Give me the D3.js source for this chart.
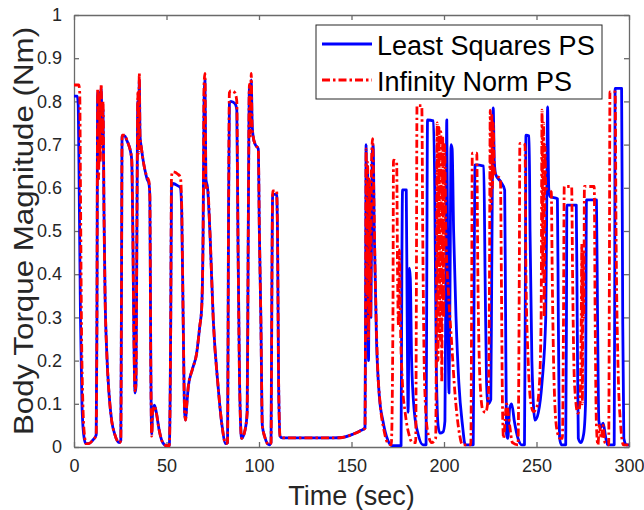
<!DOCTYPE html>
<html>
<head>
<meta charset="utf-8">
<script src="https://cdn.jsdelivr.net/npm/d3@7"></script>
<style>
  body { margin: 0; background: #fff; }
  text { font-family: "Liberation Sans", Arial, sans-serif; }
</style>
</head>
<body>
<svg id="chart" width="644" height="510"></svg>
<script>
// time ticks / torque ticks
var xTicks = [0, 50, 100, 150, 200, 250, 300];
var yTicks = [0, 0.1, 0.2, 0.3, 0.4, 0.5, 0.6, 0.7, 0.8, 0.9, 1];
var seriesNames = ['Least Squares PS', 'Infinity Norm PS'];

// [time (sec), torque (Nm)]
var leastSquares = [[0,0.812],[1.8,0.812],[2.3,0.79],[2.8,0.6],[3.5,0.3],[4.3,0.1],[5.2,0.03],[6.3,0.008],[8,0.008],[10,0.015],[12,0.028],[12.4,0.3],[12.8,0.82],[13.3,0.65],[13.7,0.82],[14.2,0.7],[14.7,0.83],[15.2,0.74],[15.7,0.78],[16.2,0.55],[16.8,0.35],[17.7,0.22],[19,0.12],[20.4,0.06],[22,0.03],[24.5,0.01],[25.3,0.015],[25.7,0.4],[26,0.72],[27.5,0.72],[28.5,0.71],[29.5,0.70],[30.5,0.685],[31.2,0.665],[31.8,0.5],[32.4,0.25],[33,0.125],[33.5,0.14],[34,0.5],[34.5,0.8],[34.9,0.7],[35.3,0.85],[35.7,0.72],[36.5,0.69],[37.5,0.66],[38.4,0.64],[39.5,0.62],[40.5,0.61],[41,0.58],[41.5,0.2],[42,0.03],[42.5,0.08],[43.5,0.097],[44.5,0.08],[46,0.04],[48,0.01],[50,0.003],[51.5,0.003],[52.3,0.3],[52.7,0.6],[53.5,0.61],[56,0.605],[57.5,0.6],[58.2,0.55],[59,0.3],[59.8,0.08],[60.3,0.062],[61,0.1],[61.8,0.14],[64,0.18],[66.3,0.217],[68,0.28],[69,0.32],[69.8,0.5],[70.3,0.8],[70.8,0.85],[71.3,0.62],[72.2,0.6],[73.5,0.495],[75.3,0.294],[77.9,0.14],[80,0.05],[82,0.008],[83,0.01],[83.5,0.5],[84,0.795],[84.8,0.8],[87,0.795],[88,0.78],[88.6,0.5],[89.5,0.15],[90.6,0.02],[92.5,0.04],[93.6,0.08],[94.2,0.5],[94.8,0.83],[95.3,0.74],[95.8,0.85],[96.3,0.75],[96.8,0.72],[98,0.7],[99.6,0.69],[100.2,0.5],[101,0.3],[101.8,0.05],[103,0.025],[105.5,0.005],[106.5,0.01],[107,0.4],[107.4,0.585],[109.5,0.585],[110,0.5],[110.6,0.15],[111.4,0.025],[112.5,0.021],[140,0.021],[145,0.022],[151,0.03],[155,0.038],[157.3,0.044],[157.6,0.3],[157.9,0.7],[158.3,0.4],[158.7,0.65],[159.2,0.2],[159.7,0.6],[160.5,0.3],[161.2,0.68],[161.7,0.7],[162.3,0.5],[163.5,0.25],[165,0.12],[167,0.06],[169.7,0.015],[172,0.003],[176.8,0.003],[177.2,0.4],[177.6,0.595],[179.6,0.595],[180.1,0.3],[180.6,0.08],[181.3,0.414],[181.8,0.39],[182.5,0.2],[184,0.08],[186,0.03],[188.6,0.005],[190.3,0.005],[190.7,0.4],[191.1,0.757],[194.3,0.755],[195,0.6],[195.8,0.2],[196.8,0.05],[197.8,0.032],[199.5,0.035],[200.5,0.06],[201,0.4],[201.5,0.757],[202.2,0.3],[202.7,0.125],[203.3,0.4],[203.8,0.7],[204.4,0.69],[205.2,0.5],[206.5,0.3],[208,0.15],[210,0.05],[211.5,0.005],[215.8,0.005],[216.3,0.4],[216.8,0.653],[221.5,0.65],[222.2,0.4],[223,0.15],[223.8,0.1],[225.3,0.11],[225.8,0.4],[226.6,0.785],[227.2,0.66],[228,0.63],[230.5,0.615],[232.8,0.595],[233.3,0.3],[233.8,0.03],[234.5,0.02],[235.5,0.09],[236.6,0.1],[238,0.06],[240,0.02],[242,0.005],[243.5,0.005],[244,0.4],[244.3,0.722],[246,0.72],[246.5,0.5],[247.5,0.2],[249.2,0.062],[251,0.08],[253,0.15],[255,0.3],[255.6,0.6],[256,0.787],[256.6,0.6],[257.3,0.58],[261.3,0.575],[261.8,0.3],[262.5,0.02],[263.5,0.005],[265.8,0.005],[266.2,0.3],[266.4,0.56],[271.5,0.56],[272,0.3],[272.6,0.02],[274,0.01],[275.5,0.03],[276.5,0.1],[277,0.572],[282.4,0.572],[283,0.3],[283.7,0.06],[284.8,0.045],[286,0.055],[287.5,0.02],[288.5,0.005],[292,0.005],[292.3,0.4],[292.5,0.83],[296,0.83],[296.6,0.3],[297.2,0.02],[298.5,0.005],[300,0.005]];

var infinityNorm = [[0,0.838],[2.6,0.838],[3.1,0.82],[3.5,0.6],[4,0.3],[4.8,0.1],[5.6,0.03],[6.5,0.008],[8,0.008],[10,0.015],[12,0.028],[12.4,0.3],[12.8,0.83],[13.3,0.62],[13.7,0.82],[14.2,0.66],[14.7,0.84],[15.2,0.7],[15.7,0.8],[16.2,0.55],[16.8,0.35],[17.7,0.22],[19,0.12],[20.4,0.06],[22,0.03],[24.5,0.01],[25.3,0.015],[25.7,0.4],[26,0.722],[27.5,0.722],[28.5,0.712],[29.5,0.70],[30.5,0.685],[31.2,0.665],[31.8,0.5],[32.4,0.25],[33,0.13],[33.5,0.15],[34,0.5],[34.5,0.82],[34.9,0.68],[35.3,0.865],[35.7,0.72],[36.5,0.69],[37.5,0.66],[38.4,0.64],[39.5,0.625],[40.5,0.615],[41,0.58],[41.5,0.2],[42,0.025],[42.5,0.08],[43.5,0.095],[44.5,0.08],[46,0.04],[48,0.01],[50,0.003],[51.5,0.003],[52.3,0.3],[52.7,0.625],[53.3,0.637],[56,0.632],[57.5,0.625],[58.2,0.56],[59,0.3],[59.8,0.08],[60.3,0.062],[61,0.1],[61.8,0.14],[64,0.18],[66.3,0.217],[68,0.28],[69,0.32],[69.8,0.5],[70.3,0.84],[70.8,0.865],[71.3,0.6],[72.2,0.6],[73.5,0.495],[75.3,0.294],[77.9,0.14],[80,0.05],[82,0.008],[83,0.01],[83.5,0.5],[84,0.82],[84.8,0.825],[87,0.82],[88,0.8],[88.6,0.5],[89.5,0.15],[90.6,0.02],[92.5,0.04],[93.6,0.08],[94.2,0.5],[94.8,0.84],[95.3,0.72],[95.8,0.865],[96.3,0.74],[96.8,0.72],[98,0.7],[99.6,0.69],[100.2,0.5],[101,0.3],[101.8,0.05],[103,0.025],[105.5,0.005],[106.5,0.01],[107,0.4],[107.4,0.593],[109.5,0.593],[110,0.5],[110.6,0.15],[111.4,0.025],[112.5,0.021],[140,0.021],[145,0.022],[151,0.03],[155,0.038],[157.3,0.044],[157.6,0.3],[157.9,0.69],[158.3,0.35],[158.7,0.66],[159.2,0.25],[159.7,0.62],[160.3,0.3],[160.8,0.65],[161.4,0.714],[162,0.6],[162.8,0.4],[164,0.2],[165.5,0.1],[167.5,0.04],[169.5,0.01],[171.5,0.005],[172.4,0.3],[172.7,0.664],[174.4,0.66],[174.9,0.4],[175.4,0.28],[175.9,0.456],[176.4,0.3],[177.5,0.15],[179,0.08],[181,0.03],[183,0.01],[184.7,0.01],[185.1,0.4],[185.4,0.79],[188,0.79],[188.5,0.5],[189.5,0.15],[191,0.04],[193.3,0.01],[195.5,0.02],[196,0.4],[196.3,0.75],[196.8,0.2],[197.3,0.74],[197.8,0.25],[198.3,0.73],[198.8,0.15],[199.3,0.72],[199.8,0.3],[200.3,0.7],[201,0.5],[202.5,0.35],[204,0.25],[206,0.12],[208,0.04],[210,0.005],[214.5,0.005],[215,0.4],[215.3,0.68],[217.7,0.68],[218.3,0.4],[219.5,0.15],[221,0.085],[222.5,0.08],[224,0.12],[224.6,0.4],[225,0.78],[225.4,0.55],[225.8,0.77],[226.2,0.6],[226.6,0.75],[227.2,0.64],[228,0.63],[230.5,0.62],[231,0.4],[231.6,0.1],[232.2,0.02],[233,0.06],[233.8,0.1],[235.5,0.05],[237,0.01],[240,0.005],[240.7,0.4],[241,0.703],[243.8,0.7],[244.3,0.4],[245.5,0.2],[247,0.1],[248.3,0.082],[250,0.09],[251.5,0.14],[252.5,0.3],[253,0.78],[253.4,0.4],[253.8,0.75],[254.2,0.3],[254.6,0.7],[255,0.6],[258,0.59],[258.5,0.4],[259.5,0.15],[261,0.04],[262.7,0.02],[264,0.02],[264.6,0.3],[265,0.603],[269,0.603],[269.5,0.4],[270.5,0.15],[272.4,0.078],[273.5,0.1],[274.2,0.3],[274.5,0.47],[274.8,0.1],[275.2,0.45],[275.6,0.3],[275.9,0.603],[281.2,0.603],[281.7,0.3],[282.4,0.05],[283.2,0.005],[284,0.05],[285,0.02],[286,0.05],[287,0.01],[289,0.005],[289.4,0.4],[289.7,0.822],[292.5,0.822],[293,0.5],[294,0.2],[295.5,0.05],[297,0.005],[300,0.005]];

var svg = d3.select('#chart');
var plotLeft = 74, plotRight = 629, plotTop = 15, plotBottom = 447;
var axisColor = '#262626';

var x = d3.scaleLinear().domain([0, 300]).range([plotLeft, plotRight]);
var y = d3.scaleLinear().domain([0, 1]).range([plotBottom, plotTop]);

svg.append('rect').attr('width', 644).attr('height', 510).attr('fill', '#fff');

var fmtY = function(d) { return String(+d.toFixed(1)); };

// box axes, MATLAB style ticks pointing inward
var styleAxis = function(g) {
    g.selectAll('path').attr('stroke', '#6a6a6a').attr('stroke-width', 1.3);
    g.selectAll('line').attr('stroke', '#6a6a6a').attr('stroke-width', 1.3);
    g.selectAll('text').attr('fill', axisColor).style('font-size', '18px')
        .style('font-family', '"Liberation Sans", Arial, sans-serif');
};

svg.append('g').attr('transform', 'translate(0,' + plotBottom + ')')
    .call(d3.axisBottom(x).tickValues(xTicks).tickSizeInner(-5).tickSizeOuter(0).tickPadding(12))
    .call(styleAxis);
svg.append('g').attr('transform', 'translate(0,' + plotTop + ')')
    .call(d3.axisTop(x).tickValues(xTicks).tickSizeInner(-5).tickSizeOuter(0).tickFormat(''))
    .call(styleAxis);
svg.append('g').attr('transform', 'translate(' + plotLeft + ',0)')
    .call(d3.axisLeft(y).tickValues(yTicks).tickSizeInner(-5).tickSizeOuter(0).tickPadding(12).tickFormat(fmtY))
    .call(styleAxis);
svg.append('g').attr('transform', 'translate(' + plotRight + ',0)')
    .call(d3.axisRight(y).tickValues(yTicks).tickSizeInner(-5).tickSizeOuter(0).tickFormat(''))
    .call(styleAxis);

var line = d3.line()
    .x(function(d) { return x(d[0]); })
    .y(function(d) { return y(d[1]); })
    .curve(d3.curveMonotoneX);

svg.append('path').datum(leastSquares)
    .attr('d', line)
    .attr('fill', 'none')
    .attr('stroke', '#0000ff')
    .attr('stroke-width', 2.8)
    .attr('stroke-linejoin', 'round');

svg.append('path').datum(infinityNorm)
    .attr('d', line)
    .attr('fill', 'none')
    .attr('stroke', '#ff0000')
    .attr('stroke-width', 2.8)
    .attr('stroke-dasharray', '8,3,2.5,3')
    .attr('stroke-linejoin', 'round');

// axis titles
svg.append('text')
    .attr('x', (plotLeft + plotRight) / 2).attr('y', 505)
    .attr('text-anchor', 'middle')
    .attr('fill', axisColor)
    .style('font-size', '27px')
    .text('Time (sec)');

// the source figure is a bit stretched vertically, so stretch the rotated label too
svg.append('text')
    .attr('transform', 'translate(33,' + ((plotTop + plotBottom) / 2) + ') rotate(-90) scale(1.16,1)')
    .attr('text-anchor', 'middle')
    .attr('fill', axisColor)
    .style('font-size', '27px')
    .text('Body Torque Magnitude (Nm)');

// legend
var legend = svg.append('g');
legend.append('rect')
    .attr('x', 316).attr('y', 25).attr('width', 286).attr('height', 74)
    .attr('fill', '#fff').attr('stroke', axisColor).attr('stroke-width', 1);

var legendStyles = [
    { color: '#0000ff', dash: null },
    { color: '#ff0000', dash: '8,3,2.5,3' }
];
seriesNames.forEach(function(name, i) {
    var ly = 44 + i * 36;
    legend.append('line')
        .attr('x1', 322).attr('x2', 372).attr('y1', ly).attr('y2', ly)
        .attr('stroke', legendStyles[i].color)
        .attr('stroke-width', 2.8)
        .attr('stroke-dasharray', legendStyles[i].dash);
    legend.append('text')
        .attr('x', 377).attr('y', ly + 11)
        .attr('fill', '#000')
        .style('font-size', '27px')
        .text(name);
});
</script>
</body>
</html>
